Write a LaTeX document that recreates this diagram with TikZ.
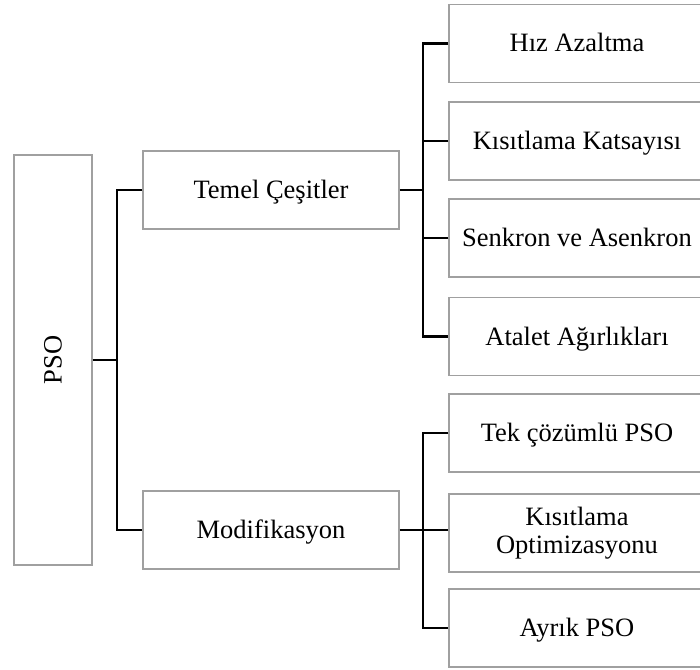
\documentclass[tikz,border=0pt]{standalone}
\usepackage{fontspec}
\setmainfont{Liberation Serif}
\begin{document}
\begin{tikzpicture}[x=1pt,y=-1pt,
  box/.style={draw=boxgray, line width=1.4pt, rectangle, inner sep=0pt,
    minimum width=256pt, minimum height=78pt,
    font=\fontsize{26.5}{28}\selectfont, text height=23pt, text depth=6pt},
  link/.style={draw=black, line width=2.8pt}]
\definecolor{boxgray}{HTML}{A0A0A0}
\useasboundingbox (0,0) rectangle (700,669);
\clip (0,0) rectangle (700,669);

% root
\node[box, minimum width=78pt, minimum height=410pt, text height=, text depth=] (pso) at (53,360) {};
\node[rotate=90, font=\fontsize{26.5}{28}\selectfont] (psolabel) at (pso.center) {PSO};

% second level
\node[box] (tem) at (271,190) {Temel Çeşitler};
\node[box] (mod) at (271,530) {Modifikasyon};

% leaves, extending past the right edge
\node[box] (l1) at (577,43.5) {Hız Azaltma};
\node[box] (l2) at (577,141) {Kısıtlama Katsayısı};
\node[box] (l3) at (577,238) {Senkron ve Asenkron};
\node[box] (l4) at (577,336.5) {Atalet Ağırlıkları};
\node[box] (l5) at (577,433) {Tek çözümlü PSO};
\node[box, align=center, text height=, text depth=, yshift=-3pt] (l6) at (577,530) {Kısıtlama\\Optimizasyonu};
\node[box] (l7) at (577,628) {Ayrık PSO};

% junction coordinates
\coordinate (j0) at (117,360);
\coordinate (j1) at (423,190);
\coordinate (j2) at (423,530);

% connectors
\draw[link] (pso.east) -- (j0);
\draw[link] (tem.west) -| (j0) |- (mod.west);

\draw[link] (tem.east) -- (j1);
\draw[link] (l1.west) -| (j1) |- (l4.west);
\draw[link] (l2.west) -- (l2.west -| j1);
\draw[link] (l3.west) -- (l3.west -| j1);

\draw[link] (mod.east) -- (j2);
\draw[link] (l5.west) -| (j2) |- (l7.west);
\draw[link] (l6.west |- j2) -- (j2);
\end{tikzpicture}
\end{document}
